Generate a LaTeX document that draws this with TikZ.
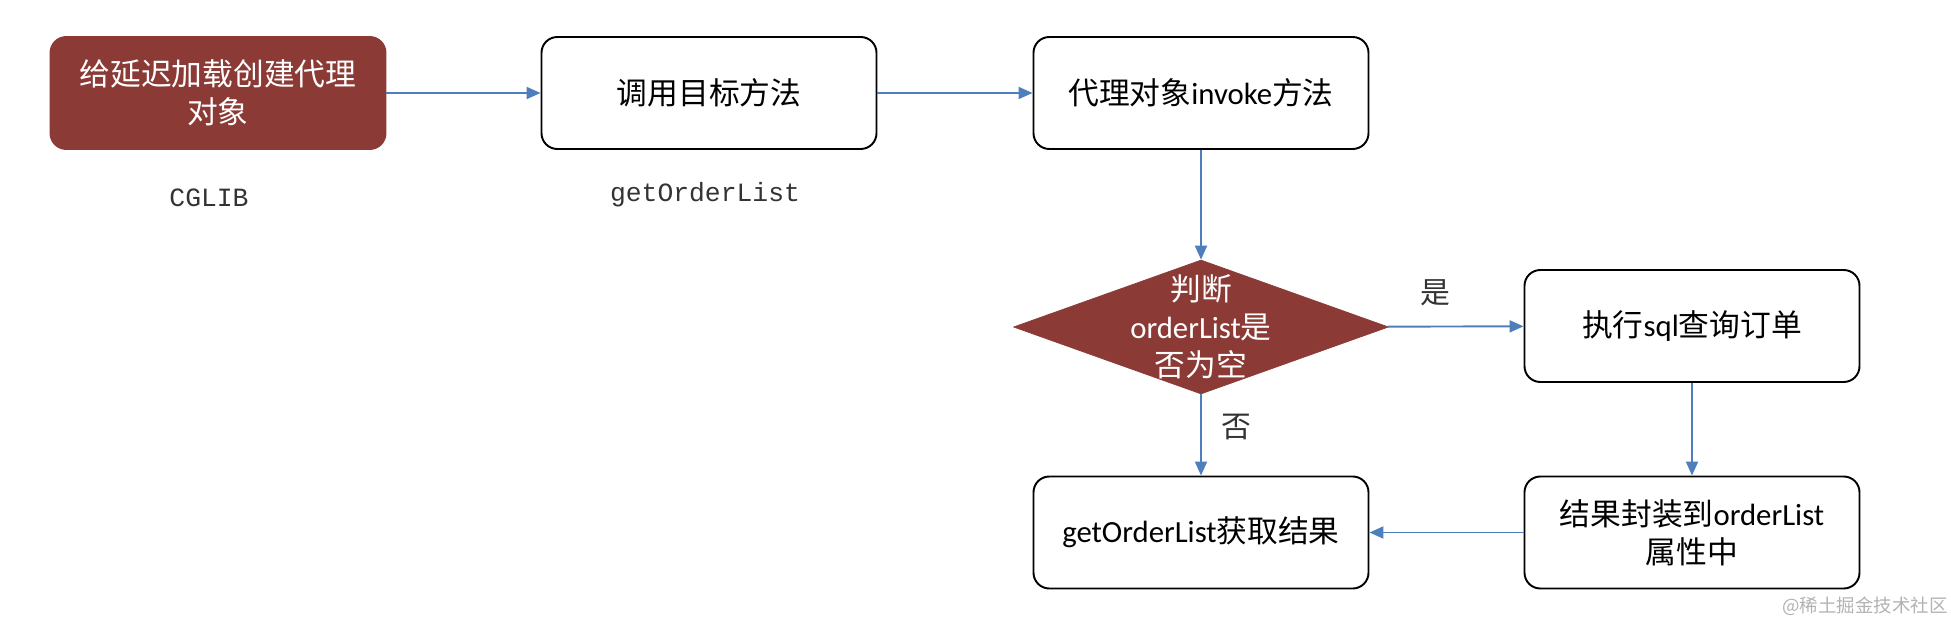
\documentclass[tikz,border=0pt]{standalone}
\usepackage{fontspec}
\usepackage{tikz}
\setmainfont{Carlito}
\setmonofont{Liberation Mono}
\newfontfamily\cjkfont{Noto Sans CJK SC}
\usetikzlibrary{
  arrows.meta,
  shapes.geometric,
  positioning
}
\definecolor{lzRed}{HTML}{8B3A36}
\definecolor{lzBlue}{HTML}{4F7EBD}
\definecolor{lzMute}{HTML}{333333}
\newcommand{\zh}[1]{{\cjkfont #1}}
\tikzset{
  lznode/.style={
    draw, rounded corners=9pt, minimum width=67mm, minimum height=22.4mm,
    font=\fontsize{17.5}{21.5}\selectfont, align=center, line width=1.1pt
  },
  stepbox/.style={lznode, fill=white, draw=black},
  startbox/.style={lznode, fill=lzRed, draw=lzRed, text=white},
  decision/.style={diamond, fill=lzRed, draw=lzRed, inner sep=0pt,
    minimum width=75mm, minimum height=26.8mm},
  decisiontext/.style={text=white, font=\fontsize{17.5}{21.5}\selectfont, align=center},
  flow/.style={-{Triangle[length=2.8mm, width=2.4mm]}, line width=1.1pt, lzBlue},
  tag/.style={font=\ttfamily\fontsize{15}{18}\selectfont, text=lzMute},
  edgetag/.style={font=\cjkfont\fontsize{17}{20}\selectfont, text=lzMute, inner sep=1pt},
  mark text/.style={font=\cjkfont\fontsize{10.5}{12}\selectfont, text=black!30}
}

\begin{document}
\begin{tikzpicture}
  \useasboundingbox (0,0) rectangle (39.02,12.46);
  % top row
  \node[startbox] (init) at (4.36,10.6) {\zh{给延迟加载创建代理}\\\zh{对象}};
  \node[stepbox] (call) at (14.18,10.6) {\zh{调用目标方法}};
  \node[stepbox] (proxy) at (24.02,10.6) {\zh{代理对象}invoke\zh{方法}};
  \node[tag] (cglibtag) at (4.18,8.5) {CGLIB};
  \node[tag] (calltag) at (14.1,8.56) {getOrderList};
  % decision and branches
  \node[decision, label={[decisiontext]center:{\zh{判断}\\orderList\zh{是}\\\zh{否为空}}}] (judge) at (24.02,5.92) {};
  \node[stepbox] (query) at (33.84,5.94) {\zh{执行}sql\zh{查询订单}};
  \node[stepbox] (result) at (24.02,1.81) {getOrderList\zh{获取结果}};
  \node[stepbox] (wrap) at (33.84,1.81) {\zh{结果封装到}orderList\\\zh{属性中}};
  \node[mark text] (mark) at (37.3,0.34) {@稀土掘金技术社区};

  \draw[flow] (init) -- (call);
  \draw[flow] (call) -- (proxy);
  \draw[flow] (proxy) -- (judge);
  \draw[flow] (judge) -- node[edgetag, pos=0.35, above=3.5mm] {是} (query);
  \draw[flow] (judge) -- node[edgetag, pos=0.4, right=3.5mm] {否} (result);
  \draw[flow] (query) -- (wrap);
  \draw[flow] (wrap) -- (result);
\end{tikzpicture}
\end{document}
